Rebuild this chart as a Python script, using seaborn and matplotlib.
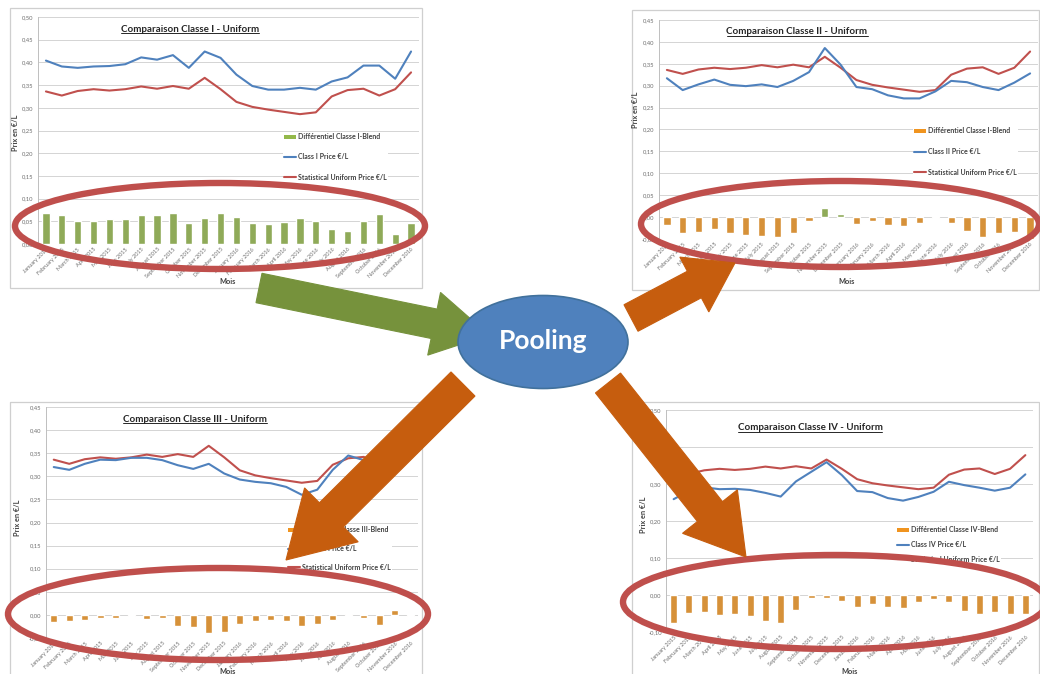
import numpy as np
import pandas as pd
import matplotlib
matplotlib.use("Agg")
import matplotlib.pyplot as plt
import seaborn as sns
from matplotlib.patches import Ellipse, FancyArrow, Rectangle, Patch
from matplotlib.lines import Line2D
from matplotlib.ticker import FuncFormatter, MultipleLocator

W, H = 1040, 674

months = ["January 2015", "February 2015", "March 2015", "April 2015", "May 2015",
          "June 2015", "July 2015", "August 2015", "September 2015", "October 2015",
          "November 2015", "December 2015", "January 2016", "February 2016",
          "March 2016", "April 2016", "May 2016", "June 2016", "July 2016",
          "August 2016", "September 2016", "October 2016", "November 2016",
          "December 2016"]

uniform_price = [0.336, 0.327, 0.337, 0.341, 0.338, 0.341, 0.347, 0.342, 0.348, 0.342,
                 0.366, 0.341, 0.313, 0.302, 0.296, 0.291, 0.286, 0.290, 0.325, 0.339,
                 0.342, 0.327, 0.341, 0.378]

class1_price = [0.404, 0.391, 0.388, 0.391, 0.392, 0.396, 0.411, 0.406, 0.416, 0.388,
                0.424, 0.410, 0.373, 0.348, 0.340, 0.340, 0.344, 0.340, 0.358, 0.367,
                0.393, 0.393, 0.364, 0.424]
class1_diff = [0.068, 0.064, 0.051, 0.050, 0.054, 0.055, 0.064, 0.064, 0.068, 0.046,
               0.058, 0.069, 0.060, 0.046, 0.044, 0.049, 0.058, 0.050, 0.033, 0.028,
               0.051, 0.066, 0.023, 0.046]

class2_price = [0.317, 0.290, 0.303, 0.314, 0.302, 0.299, 0.303, 0.297, 0.311, 0.331,
                0.386, 0.348, 0.297, 0.292, 0.278, 0.271, 0.271, 0.287, 0.311, 0.308,
                0.297, 0.290, 0.307, 0.328]
class2_diff = [-0.019, -0.037, -0.034, -0.027, -0.036, -0.042, -0.044, -0.045, -0.037,
               -0.008, 0.021, 0.007, -0.016, -0.009, -0.018, -0.020, -0.013, -0.003,
               -0.013, -0.031, -0.045, -0.037, -0.034, -0.050]

class3_price = [0.320, 0.314, 0.327, 0.336, 0.335, 0.340, 0.340, 0.335, 0.324, 0.316,
                0.327, 0.306, 0.293, 0.288, 0.285, 0.277, 0.260, 0.271, 0.314, 0.345,
                0.335, 0.306, 0.352, 0.376]
class3_diff = [-0.016, -0.014, -0.010, -0.007, -0.006, -0.002, -0.008, -0.007, -0.024,
               -0.027, -0.039, -0.036, -0.020, -0.014, -0.011, -0.014, -0.024, -0.019,
               -0.011, 0.003, -0.007, -0.021, 0.011, -0.002]

class4_price = [0.259, 0.281, 0.291, 0.286, 0.287, 0.284, 0.276, 0.266, 0.307, 0.333,
                0.359, 0.324, 0.281, 0.278, 0.262, 0.255, 0.265, 0.279, 0.306, 0.297,
                0.290, 0.282, 0.290, 0.326]
class4_diff = [-0.075, -0.048, -0.045, -0.055, -0.051, -0.057, -0.071, -0.076, -0.041,
               -0.009, -0.007, -0.016, -0.032, -0.024, -0.033, -0.035, -0.020, -0.011,
               -0.019, -0.042, -0.052, -0.045, -0.051, -0.052]

titles = ["Comparaison Classe I - Uniform", "Comparaison Classe II - Uniform",
          "Comparaison Classe III - Uniform", "Comparaison Classe IV - Uniform"]
diff_labels = ["Différentiel Classe I-Blend", "Différentiel Classe I-Blend",
               "Différentiel Classe III-Blend", "Différentiel Classe IV-Blend"]
price_labels = ["Class I Price €/L", "Class II Price €/L", "Class III Price €/L",
                "Class IV Price €/L"]
uniform_label = "Statistical Uniform Price €/L"

BLUE = "#4F81BD"
RED = "#C0504D"
GREEN = "#93B84A"
ORANGE = "#F0941F"
GRID = "#D4D4D4"
TICK = "#6E6E6E"

sns.set_theme(style="white")
plt.rcParams["font.family"] = ["Lato", "DejaVu Sans"]

fig = plt.figure(figsize=(W / 100, H / 100), dpi=100)
fig.patch.set_facecolor("white")


def fx(px):
    return px / W


def fy(py):
    return 1 - py / H


# background layer: chart frames in pixel coordinates
bg = fig.add_axes([0, 0, 1, 1], zorder=0)
bg.set_xlim(0, W)
bg.set_ylim(H, 0)
bg.axis("off")
frames = [(10, 8, 422, 288), (632, 10, 1039, 290), (10, 402, 422, 684), (632, 402, 1039, 684)]
for l, t, r, b in frames:
    bg.add_patch(Rectangle((l, t), r - l, b - t, fill=False, ec="#CFCFCF", lw=0.9))


def comma_fmt(v, _pos):
    if abs(v) < 1e-9:
        v = 0.0
    return f"{v:.2f}".replace(".", ",")


def draw_panel(box, price, diff, title, diff_label, price_label, ylim, ystep,
               pos_color, neg_color, legend_xy, legend_gap, title_xy, mois_xy, ylab_xy):
    l, t, r, b = box
    ax = fig.add_axes([fx(l), fy(b), (r - l) / W, (b - t) / H], zorder=2)
    ax.set_facecolor("none")
    df = pd.DataFrame({"idx": np.arange(len(months)), "Mois": months,
                       "price": price, "uniform": uniform_price, "diff": diff})
    df["sign"] = np.where(df["diff"] >= 0, "pos", "neg")
    sns.barplot(data=df, x="idx", y="diff", hue="sign", hue_order=["pos", "neg"],
                palette={"pos": pos_color, "neg": neg_color}, dodge=False,
                native_scale=True, width=0.46, legend=False, ax=ax, zorder=2)
    sns.lineplot(data=df, x="idx", y="uniform", color=RED, lw=1.5, sort=False, ax=ax, zorder=3)
    sns.lineplot(data=df, x="idx", y="price", color=BLUE, lw=1.5, sort=False, ax=ax, zorder=3)

    ax.set_xlim(-0.5, len(months) - 0.5)
    ax.set_ylim(*ylim)
    ax.yaxis.set_major_locator(MultipleLocator(ystep))
    ax.yaxis.set_major_formatter(FuncFormatter(comma_fmt))
    ax.yaxis.grid(True, color=GRID, lw=0.7)
    ax.set_axisbelow(True)
    ax.set_xticks(np.arange(len(months)))
    ax.set_xticklabels(months, rotation=45, ha="right", rotation_mode="anchor")
    ax.tick_params(axis="x", labelsize=4, colors=TICK, length=0, pad=2)
    ax.tick_params(axis="y", labelsize=4.2, colors=TICK, length=0, pad=3)
    ax.set_xlabel("")
    ax.set_ylabel("")
    for s in ["top", "right", "bottom"]:
        ax.spines[s].set_visible(False)
    ax.spines["left"].set_color("#BFBFBF")
    ax.spines["left"].set_linewidth(0.7)

    handles = [Patch(facecolor=neg_color if min(diff) < 0 else pos_color, edgecolor="none"),
               Line2D([], [], color=BLUE, lw=1.5),
               Line2D([], [], color=RED, lw=1.5)]
    fs = 5.0
    fs_px = fs * 100 / 72
    leg = ax.legend(handles, [diff_label, price_label, uniform_label],
                    loc="upper left",
                    bbox_to_anchor=(fx(legend_xy[0]), fy(legend_xy[1] - fs_px / 2 - 1.5)),
                    bbox_transform=fig.transFigure, frameon=True, facecolor="white",
                    edgecolor="none", framealpha=1, borderaxespad=0, borderpad=0.2,
                    handlelength=1.7, handleheight=0.6, handletextpad=0.2,
                    labelspacing=(legend_gap - fs_px) / fs_px,
                    prop={"size": fs, "weight": "bold"})
    for txt in leg.get_texts():
        txt.set_color("#404040")

    ttl = fig.text(fx(title_xy[0]), fy(title_xy[1]), title, ha="center", va="center",
                   fontsize=7, fontweight="bold", color="#262626", zorder=4)
    fig.text(fx(mois_xy[0]), fy(mois_xy[1]), "Mois", ha="center", va="center",
             fontsize=5.3, fontweight="bold", color="#404040", zorder=4)
    fig.text(fx(ylab_xy[0]), fy(ylab_xy[1]), "Prix en €/L", ha="center", va="center",
             rotation=90, fontsize=5.3, fontweight="bold", color="#404040", zorder=4)
    return ttl


title_texts = [
    draw_panel((38, 17, 419, 244), class1_price, class1_diff, titles[0], diff_labels[0],
               price_labels[0], (0, 0.50), 0.05, GREEN, GREEN,
               (283, 137), 20, (190, 29), (228, 282), (16, 133)),
    draw_panel((659, 20, 1038, 239), class2_price, class2_diff, titles[1], diff_labels[1],
               price_labels[1], (-0.05, 0.45), 0.05, GREEN, ORANGE,
               (913, 131), 20.5, (797, 32), (847, 282), (636, 110)),
    draw_panel((46, 407, 418, 638), class3_price, class3_diff, titles[2], diff_labels[2],
               price_labels[2], (-0.05, 0.45), 0.05, ORANGE, ORANGE,
               (287, 530), 18.5, (195, 419), (228, 672), (18, 518)),
    draw_panel((666, 410, 1033, 632), class4_price, class4_diff, titles[3], diff_labels[3],
               price_labels[3], (-0.10, 0.50), 0.10, ORANGE, ORANGE,
               (896, 530), 14.5, (810, 428), (850, 672), (643, 515)),
]

# overlay layer: highlight ellipses, pooling bubble and arrows
ov = fig.add_axes([0, 0, 1, 1], zorder=5)
ov.set_xlim(0, W)
ov.set_ylim(H, 0)
ov.patch.set_alpha(0)
ov.axis("off")

ELL = "#BF4F4C"
for cx, cy, w, h in [(220, 226, 410, 86), (840, 224, 398, 86),
                     (218, 614, 420, 92), (835, 602, 424, 94)]:
    ov.add_patch(Ellipse((cx, cy), w, h, fill=False, ec=ELL, lw=4.6))

ARROW_ORANGE = "#C65D0E"
ARROW_GREEN = "#76923C"
arrows = [((259, 288), (489, 335), 30, 64, 56, ARROW_GREEN),
          ((631, 318), (735, 263), 30, 62, 46, ARROW_ORANGE),
          ((463, 384), (286, 560), 34, 76, 64, ARROW_ORANGE),
          ((608, 383), (746, 557), 32, 70, 58, ARROW_ORANGE)]
for (x0, y0), (x1, y1), wd, hw, hl, col in arrows:
    ov.add_patch(FancyArrow(x0, y0, x1 - x0, y1 - y0, width=wd, head_width=hw,
                            head_length=hl, length_includes_head=True,
                            fc=col, ec=col, lw=0.8))

ov.add_patch(Ellipse((543, 342), 170, 93, fc="#4F81BD", ec="#41719C", lw=1.2))
ov.text(543, 341, "Pooling", ha="center", va="center", color="white",
        fontsize=19, fontweight="bold")

# underline the chart titles
fig.canvas.draw()
renderer = fig.canvas.get_renderer()
for t in title_texts:
    bb = t.get_window_extent(renderer)
    yline = (bb.y0 + 1.0) / H
    fig.add_artist(Line2D([bb.x0 / W, bb.x1 / W], [yline, yline],
                          transform=fig.transFigure, color="#262626", lw=0.7, zorder=4))

fig.savefig("out.png", dpi=100)
